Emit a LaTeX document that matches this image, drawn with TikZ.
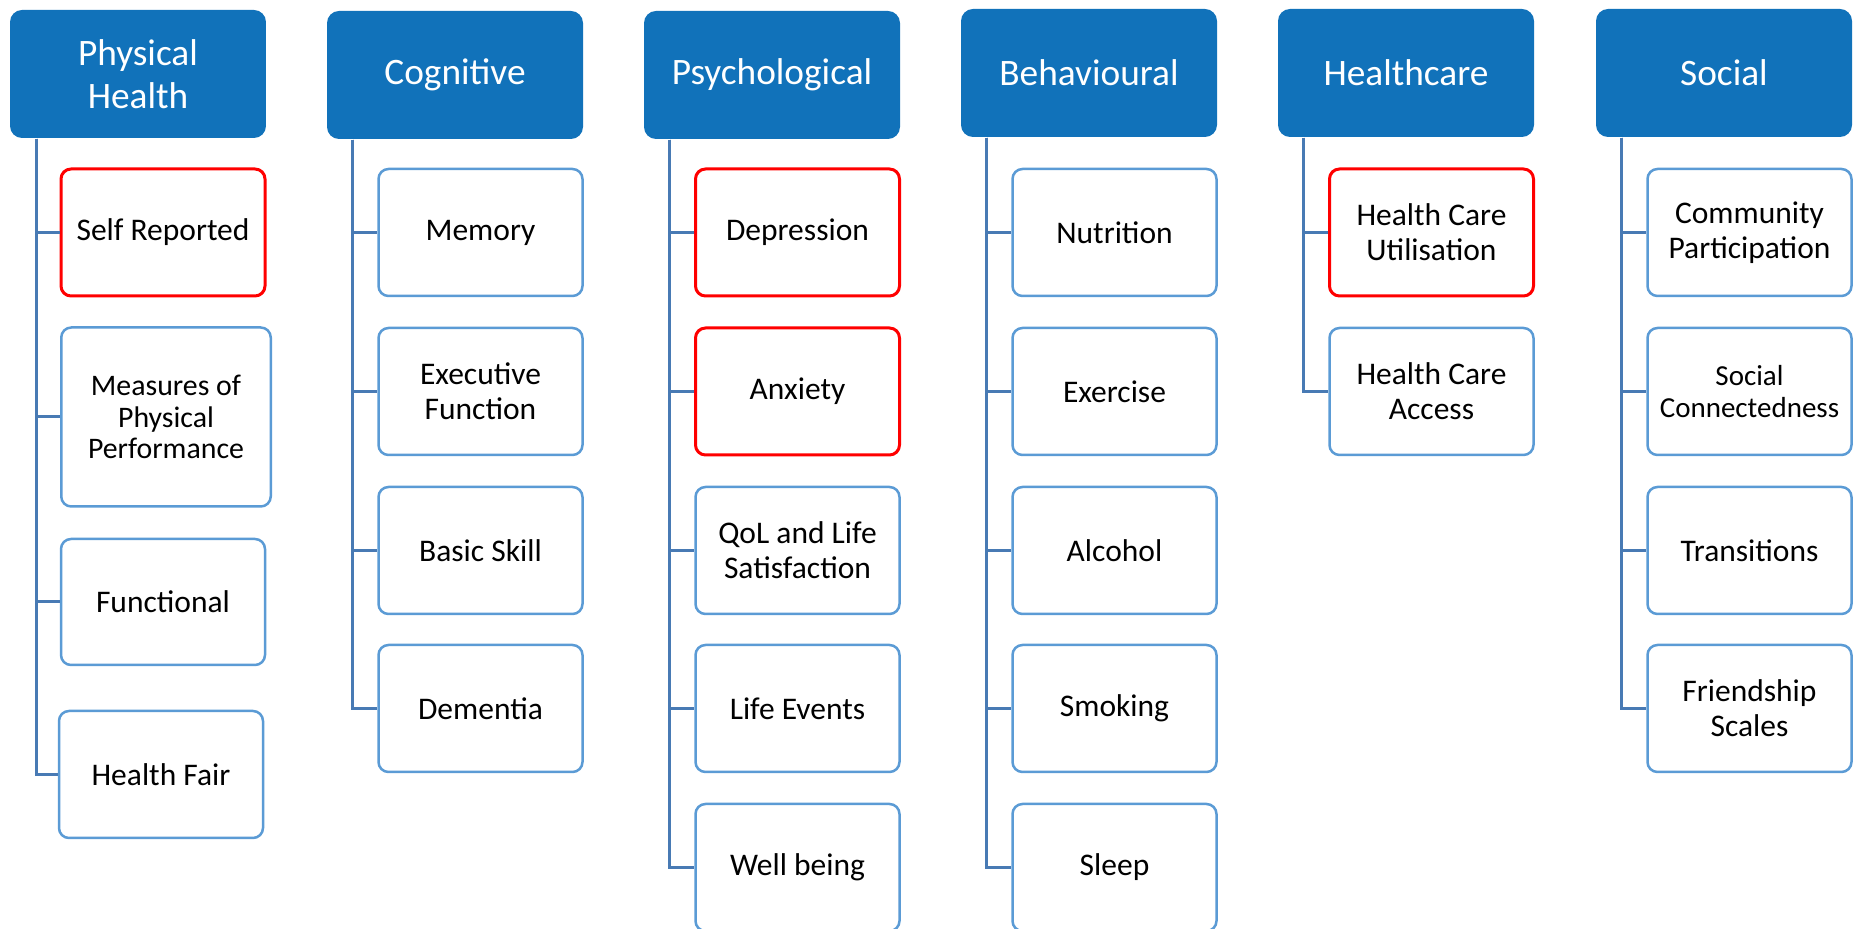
\documentclass[tikz,border=0pt]{standalone}
\usepackage{fontspec}
\setmainfont{Carlito}

\definecolor{hdrblue}{RGB}{17,114,186}
\definecolor{boxblue}{RGB}{91,155,213}
\definecolor{linkblue}{RGB}{72,122,180}
\definecolor{flagred}{RGB}{255,0,0}

\tikzset{
  cat/.style={fill=hdrblue, text=white, rounded corners=3.6pt, inner sep=0pt,
    minimum width=76.8pt, minimum height=38.4pt, align=center,
    font=\fontsize{11.2}{12.8}\selectfont},
  item/.style={draw=boxblue, line width=0.75pt, fill=white, rounded corners=3pt,
    inner sep=0pt, minimum width=61.2pt, minimum height=38.1pt, align=center,
    font=\fontsize{9.45}{10.5}\selectfont},
  flagged/.style={item, draw=flagred, line width=0.9pt},
  small/.style={font=\fontsize{8.7}{9.6}\selectfont},
  link/.style={draw=linkblue, line width=0.9pt},
}

\begin{document}
\begin{tikzpicture}[x=0.3pt, y=-0.3pt]
\useasboundingbox (0,0) rectangle (1856,929);

% domain headers
\node[cat] (phys)  at (138,74)  {Physical\\Health};
\node[cat] (cogn)  at (455,75)  {Cognitive};
\node[cat] (psych) at (772,75)  {Psychological};
\node[cat] (behav) at (1089,73) {Behavioural};
\node[cat] (care)  at (1406,73) {Healthcare};
\node[cat] (soc)   at (1724,73) {Social};

% physical health
\node[flagged] (selfrep) at (163,232.5) {Self Reported};
\node[item, font=\fontsize{8.95}{9.4}\selectfont, minimum width=62.85pt, minimum height=53.7pt] (measures) at (166,417) {Measures of\\Physical\\Performance};
\node[item, minimum height=37.8pt] (functional) at (163,602) {Functional};
\node[item] (fair) at (161,774.5) {Health Fair};

% cognitive
\node[item] (memory)    at (480.5,232.5) {Memory};
\node[item] (executive) at (480.5,391.5) {Executive\\Function};
\node[item] (basic)     at (480.5,550.5) {Basic Skill};
\node[item] (dementia)  at (480.5,708.5) {Dementia};

% psychological
\node[flagged] (depression) at (797.5,232.5) {Depression};
\node[flagged] (anxiety)    at (797.5,391.5) {Anxiety};
\node[item] (qol)           at (797.5,550.5) {QoL and Life\\Satisfaction};
\node[item] (events)        at (797.5,708.5) {Life Events};
\node[item] (wellbeing)     at (797.5,867.5) {Well being};

% behavioural
\node[item] (nutrition) at (1114.5,232.5) {Nutrition};
\node[item] (exercise)  at (1114.5,391.5) {Exercise};
\node[item] (alcohol)   at (1114.5,550.5) {Alcohol};
\node[item] (smoking)   at (1114.5,708.5) {Smoking};
\node[item] (sleep)     at (1114.5,867.5) {Sleep};

% healthcare
\node[flagged] (utilisation) at (1431.5,232.5) {Health Care\\Utilisation};
\node[item] (access)         at (1431.5,391.5) {Health Care\\Access};

% social
\node[item] (community)   at (1749.5,232.5) {Community\\Participation};
\node[item, small] (connected) at (1749.5,391.5) {Social\\Connectedness};
\node[item] (transitions) at (1749.5,550.5) {Transitions};
\node[item] (friendship)  at (1749.5,708.5) {Friendship\\Scales};

% connectors
\draw[link] (phys.south west) ++(27,0) |- (selfrep.west);
\draw[link] (phys.south west) ++(27,0) |- (measures.west);
\draw[link] (phys.south west) ++(27,0) |- (functional.west);
\draw[link] (phys.south west) ++(27,0) |- (fair.west);

\draw[link] (cogn.south west) ++(26,0) |- (memory.west);
\draw[link] (cogn.south west) ++(26,0) |- (executive.west);
\draw[link] (cogn.south west) ++(26,0) |- (basic.west);
\draw[link] (cogn.south west) ++(26,0) |- (dementia.west);

\draw[link] (psych.south west) ++(26,0) |- (depression.west);
\draw[link] (psych.south west) ++(26,0) |- (anxiety.west);
\draw[link] (psych.south west) ++(26,0) |- (qol.west);
\draw[link] (psych.south west) ++(26,0) |- (events.west);
\draw[link] (psych.south west) ++(26,0) |- (wellbeing.west);

\draw[link] (behav.south west) ++(26,0) |- (nutrition.west);
\draw[link] (behav.south west) ++(26,0) |- (exercise.west);
\draw[link] (behav.south west) ++(26,0) |- (alcohol.west);
\draw[link] (behav.south west) ++(26,0) |- (smoking.west);
\draw[link] (behav.south west) ++(26,0) |- (sleep.west);

\draw[link] (care.south west) ++(26,0) |- (utilisation.west);
\draw[link] (care.south west) ++(26,0) |- (access.west);

\draw[link] (soc.south west) ++(26,0) |- (community.west);
\draw[link] (soc.south west) ++(26,0) |- (connected.west);
\draw[link] (soc.south west) ++(26,0) |- (transitions.west);
\draw[link] (soc.south west) ++(26,0) |- (friendship.west);
\end{tikzpicture}
\end{document}
